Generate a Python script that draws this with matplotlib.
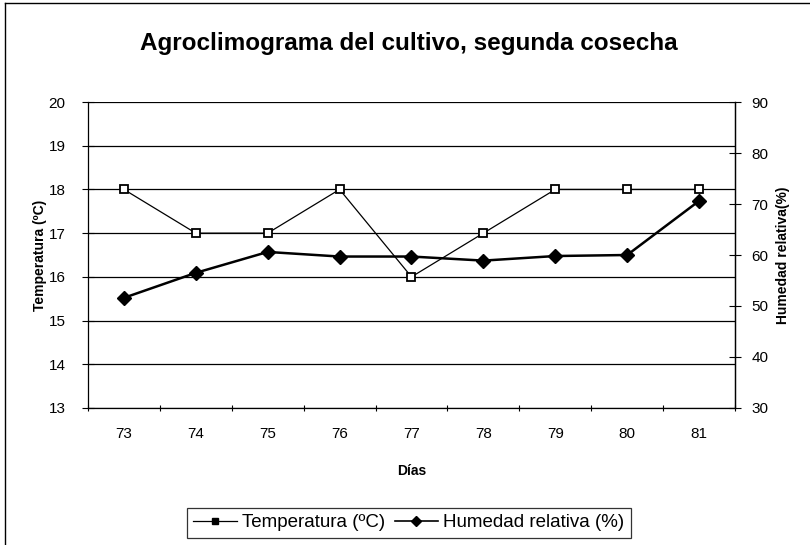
import matplotlib
matplotlib.use('Agg')
import matplotlib.pyplot as plt
from matplotlib.lines import Line2D
import numpy as np

plt.rcParams['font.family'] = ['Liberation Sans', 'DejaVu Sans']

# Data
dias = ['73', '74', '75', '76', '77', '78', '79', '80', '81']
temperatura = [18, 17, 17, 18, 16, 17, 18, 18, 18]
humedad = [51.6, 56.5, 60.6, 59.7, 59.7, 58.9, 59.8, 60.0, 70.6]

fig = plt.figure(figsize=(8.1, 5.45), dpi=100)
ax = fig.add_axes([0.1086, 0.2514, 0.7988, 0.5614])
ax2 = ax.twinx()

x = np.arange(len(dias))

ax.plot(x, temperatura, color='black', lw=0.9, marker='s', ms=6,
        mfc='white', mec='black', mew=1.3, zorder=3)
ax2.plot(x, humedad, color='black', lw=1.8, marker='D', ms=7,
         mfc='black', mec='black', zorder=3)

ax.set_xlim(-0.5, len(dias) - 0.5)
ax.set_ylim(13, 20)
ax2.set_ylim(30, 90)

ax.set_xticks(x)
ax.set_xticklabels(dias, fontsize=11)
ax.set_xticks(np.arange(-0.5, len(dias)), minor=True)
ax.tick_params(axis='x', which='major', length=0, pad=14)
ax.tick_params(axis='x', which='minor', length=4, direction='inout', width=0.8)

ax.set_yticks(range(13, 21))
ax.tick_params(axis='y', length=8, direction='inout', width=0.8, labelsize=11, pad=12)
ax2.set_yticks(range(30, 91, 10))
ax2.tick_params(axis='y', length=8, direction='inout', width=0.8, labelsize=11, pad=8)

ax.grid(axis='y', color='black', lw=0.9)
ax.set_axisbelow(True)

for a in (ax, ax2):
    a.spines['top'].set_visible(False)
    for s in a.spines.values():
        s.set_linewidth(0.9)
ax2.spines['left'].set_visible(False)
ax2.spines['bottom'].set_visible(False)

ax.set_ylabel('Temperatura (ºC)', fontsize=10, fontweight='bold')
ax.yaxis.set_label_coords(-0.064, 0.5)
ax2.set_ylabel('Humedad relativa(%)', fontsize=10, fontweight='bold', rotation=90)
ax2.yaxis.set_label_coords(1.063, 0.5)
ax.set_xlabel('Días', fontsize=10, fontweight='bold', labelpad=16)

fig.text(0.505, 0.921, 'Agroclimograma del cultivo, segunda cosecha',
         ha='center', va='center', fontsize=17.5, fontweight='bold')

handles = [
    Line2D([], [], color='black', lw=0.9, marker='s', ms=5, mfc='black', mec='black'),
    Line2D([], [], color='black', lw=1.2, marker='D', ms=5, mfc='black', mec='black'),
]
leg = fig.legend(handles, ['Temperatura (ºC)', 'Humedad relativa (%)'],
                 loc='center', bbox_to_anchor=(0.505, 0.041), ncol=2,
                 fontsize=13.5, frameon=True, fancybox=False, handlelength=2.3,
                 handletextpad=0.3, columnspacing=0.5, borderpad=0.35)
leg.get_frame().set_edgecolor('black')
leg.get_frame().set_linewidth(0.9)

# chart area border (top and left visible in the reference)
fig.add_artist(Line2D([0.006, 0.006], [0.0, 0.995], color='black', lw=1.0,
                      transform=fig.transFigure))
fig.add_artist(Line2D([0.006, 1.0], [0.995, 0.995], color='black', lw=1.0,
                      transform=fig.transFigure))

fig.savefig('out.png', dpi=100)
